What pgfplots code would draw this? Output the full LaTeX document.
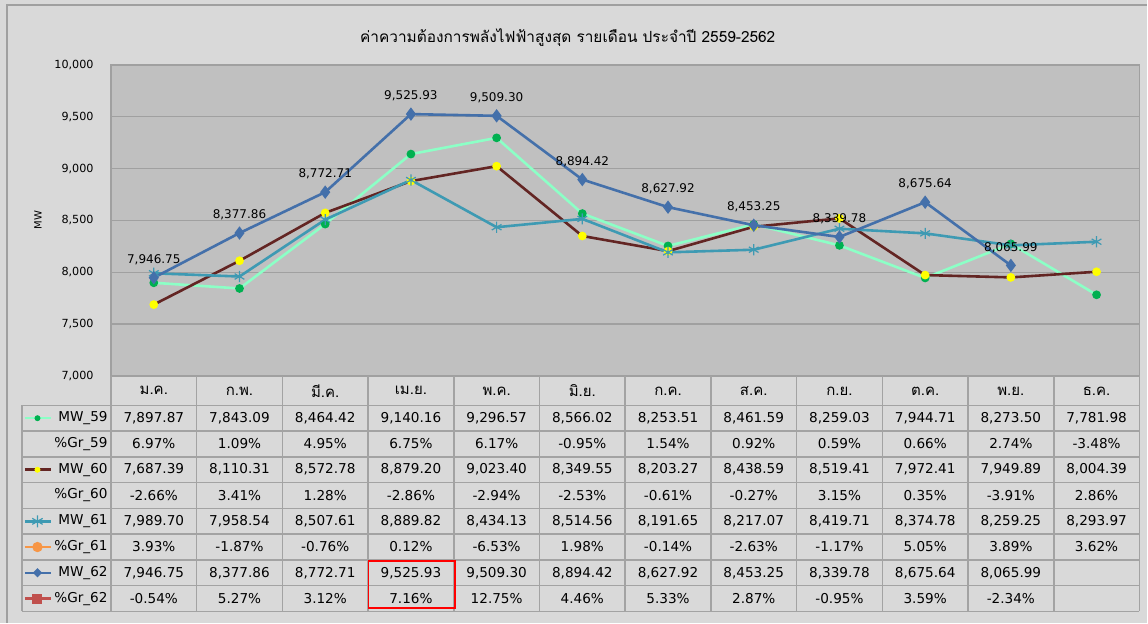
\documentclass[border=0pt]{standalone}
\usepackage{pgfplots}
\pgfplotsset{compat=1.18}
\usepackage{fontspec}
\setmainfont{DejaVu Sans}
\newfontfamily\thai[Script=Thai]{Loma}
\definecolor{bg}{HTML}{D9D9D9}
\definecolor{plotbg}{HTML}{C0C0C0}
\definecolor{gridc}{HTML}{A0A0A0}
\definecolor{tabc}{HTML}{A3A3A3}
\definecolor{cA}{HTML}{8CFFC6}
\definecolor{cAm}{HTML}{00B050}
\definecolor{cB}{HTML}{632523}
\definecolor{cBm}{HTML}{FFFF00}
\definecolor{cC}{HTML}{3E9AB3}
\definecolor{cD}{HTML}{4470AA}
\definecolor{cE}{HTML}{F79646}
\definecolor{cF}{HTML}{C0504D}
\begin{document}
\begin{tikzpicture}
\begin{scope}[x=0.5pt,y=-0.5pt]
\fill[bg] (0,0) rectangle (1148,623);
\draw[gridc, line width=0.6pt] (7,623) -- (7,5) -- (1148,5);
\useasboundingbox (0,0) rectangle (1148,623);
\node[font=\thai\fontsize{7.7}{9}\selectfont] at (568,38) {ค่าความต้องการพลังไฟฟ้าสูงสุด รายเดือน ประจำปี 2559-2562};
\node[rotate=90, font=\fontsize{5}{6}\selectfont] at (38,220) {MW};
\end{scope}
\begin{axis}[
  at={(55.5pt,-188pt)}, anchor=south west,
  scale only axis, width=514.5pt, height=155.5pt,
  xmin=-0.5, xmax=11.5, ymin=7000, ymax=10000,
  xtick=\empty, ytick={7000,7500,8000,8500,9000,9500,10000},
  scaled y ticks=false,
  yticklabel={\pgfmathprintnumber[fixed,precision=0,1000 sep={,}]{\tick}},
  ymajorgrids, major grid style={draw=gridc, line width=0.7pt},
  axis background/.style={fill=plotbg},
  axis line style={draw=gridc, line width=0.7pt},
  major tick length=0pt,
  yticklabel style={font=\fontsize{5.6}{7}\selectfont, inner sep=0pt, xshift=-8.5pt, anchor=east},
  /pgf/number format/assume math mode=true,
  /pgf/number format/1000 sep={,},
]
\addplot[color=cA, line width=1.3pt, mark=*, mark size=1.5pt, mark options={fill=cAm, draw=cAm}] coordinates {
(0,7897.87) (1,7843.09) (2,8464.42) (3,9140.16) (4,9296.57) (5,8566.02) (6,8253.51) (7,8461.59) (8,8259.03) (9,7944.71) (10,8273.50) (11,7781.98)};
\addplot[color=cB, line width=1.3pt, mark=*, mark size=1.5pt, mark options={fill=cBm, draw=cBm}] coordinates {
(0,7687.39) (1,8110.31) (2,8572.78) (3,8879.20) (4,9023.40) (5,8349.55) (6,8203.27) (7,8438.59) (8,8519.41) (9,7972.41) (10,7949.89) (11,8004.39)};
\addplot[color=cC, line width=1.3pt, mark=asterisk, mark size=2.8pt, mark options={line width=0.6pt}] coordinates {
(0,7989.70) (1,7958.54) (2,8507.61) (3,8889.82) (4,8434.13) (5,8514.56) (6,8191.65) (7,8217.07) (8,8419.71) (9,8374.78) (10,8259.25) (11,8293.97)};
\addplot[color=cD, line width=1.3pt, mark=diamond*, mark size=2.3pt,
  nodes near coords={\pgfmathprintnumber[fixed,fixed zerofill,precision=2,1000 sep={,}]{\pgfplotspointmeta}},
  every node near coord/.style={font=\fontsize{6}{7}\selectfont, text=black, yshift=2.5pt}] coordinates {
(0,7946.75) (1,8377.86) (2,8772.71) (3,9525.93) (4,9509.30) (5,8894.42) (6,8627.92) (7,8453.25) (8,8339.78) (9,8675.64) (10,8065.99)};
\end{axis}
\begin{scope}[x=0.5pt,y=-0.5pt]
% table grid
\foreach \r in {0,...,8} \draw[tabc, line width=0.8pt] (22,{405.5+25.78*\r}) -- (1140,{405.5+25.78*\r});
\draw[tabc, line width=0.8pt] (22,405.5) -- (22,611.7);
\foreach \c in {0,...,12} \draw[tabc, line width=0.8pt] ({111+85.75*\c},376) -- ({111+85.75*\c},611.7);
% header
\foreach \m [count=\i from 0] in {ม.ค.,ก.พ.,มี.ค.,เม.ย.,พ.ค.,มิ.ย.,ก.ค.,ส.ค.,ก.ย.,ต.ค.,พ.ย.,ธ.ค.}
  \node[font=\thai\fontsize{7.5}{9}\selectfont] at ({111+85.75*(\i+0.5)},391) {\m};
% row labels
\foreach \t [count=\r from 0] in {MW\_59,\%Gr\_59,MW\_60,\%Gr\_60,MW\_61,\%Gr\_61,MW\_62,\%Gr\_62}
  \node[font=\fontsize{6.8}{8}\selectfont, anchor=east, inner sep=0pt] at (108,{405.5+25.78*(\r+0.5)}) {\t};
% legend keys
\draw[cA, line width=1.3pt] (25,418.4) -- (51,418.4);
\fill[cAm] (37.5,418.4) circle (1.5pt);
\draw[cB, line width=1.3pt] (25,470.0) -- (51,470.0);
\fill[cBm] (37.5,470.0) circle (1.5pt);
\draw[cC, line width=1.3pt] (25,521.6) -- (51,521.6);
\draw[cC, line width=0.6pt] (37.5,515.6) -- (37.5,527.6) (32.3,518.6) -- (42.7,524.6) (32.3,524.6) -- (42.7,518.6);
\draw[cE, line width=1.3pt] (25,547.3) -- (51,547.3);
\fill[cE] (37.5,547.3) circle (2.6pt);
\draw[cD, line width=1.3pt] (25,573.1) -- (51,573.1);
\fill[cD] (37.5,568.5) -- (42.1,573.1) -- (37.5,577.7) -- (32.9,573.1) -- cycle;
\draw[cF, line width=1.3pt] (25,598.9) -- (51,598.9);
\fill[cF] (32.5,593.9) rectangle (42.5,603.9);
% values
\def\cell#1#2#3{\node[font=\fontsize{6.8}{8}\selectfont] at ({111+85.75*(#2+0.5)},{405.5+25.78*(#1+0.5)}) {#3};}
\foreach \v [count=\i from 0] in {{7,897.87},{7,843.09},{8,464.42},{9,140.16},{9,296.57},{8,566.02},{8,253.51},{8,461.59},{8,259.03},{7,944.71},{8,273.50},{7,781.98}} {\cell{0}{\i}{\v}}
\foreach \v [count=\i from 0] in {6.97\%,1.09\%,4.95\%,6.75\%,6.17\%,-0.95\%,1.54\%,0.92\%,0.59\%,0.66\%,2.74\%,-3.48\%} {\cell{1}{\i}{\v}}
\foreach \v [count=\i from 0] in {{7,687.39},{8,110.31},{8,572.78},{8,879.20},{9,023.40},{8,349.55},{8,203.27},{8,438.59},{8,519.41},{7,972.41},{7,949.89},{8,004.39}} {\cell{2}{\i}{\v}}
\foreach \v [count=\i from 0] in {-2.66\%,3.41\%,1.28\%,-2.86\%,-2.94\%,-2.53\%,-0.61\%,-0.27\%,3.15\%,0.35\%,-3.91\%,2.86\%} {\cell{3}{\i}{\v}}
\foreach \v [count=\i from 0] in {{7,989.70},{7,958.54},{8,507.61},{8,889.82},{8,434.13},{8,514.56},{8,191.65},{8,217.07},{8,419.71},{8,374.78},{8,259.25},{8,293.97}} {\cell{4}{\i}{\v}}
\foreach \v [count=\i from 0] in {3.93\%,-1.87\%,-0.76\%,0.12\%,-6.53\%,1.98\%,-0.14\%,-2.63\%,-1.17\%,5.05\%,3.89\%,3.62\%} {\cell{5}{\i}{\v}}
\foreach \v [count=\i from 0] in {{7,946.75},{8,377.86},{8,772.71},{9,525.93},{9,509.30},{8,894.42},{8,627.92},{8,453.25},{8,339.78},{8,675.64},{8,065.99}} {\cell{6}{\i}{\v}}
\foreach \v [count=\i from 0] in {-0.54\%,5.27\%,3.12\%,7.16\%,12.75\%,4.46\%,5.33\%,2.87\%,-0.95\%,3.59\%,-2.34\%} {\cell{7}{\i}{\v}}
\draw[red, line width=0.8pt] (368.5,561) rectangle (455,608.5);
\end{scope}
\end{tikzpicture}
\end{document}
